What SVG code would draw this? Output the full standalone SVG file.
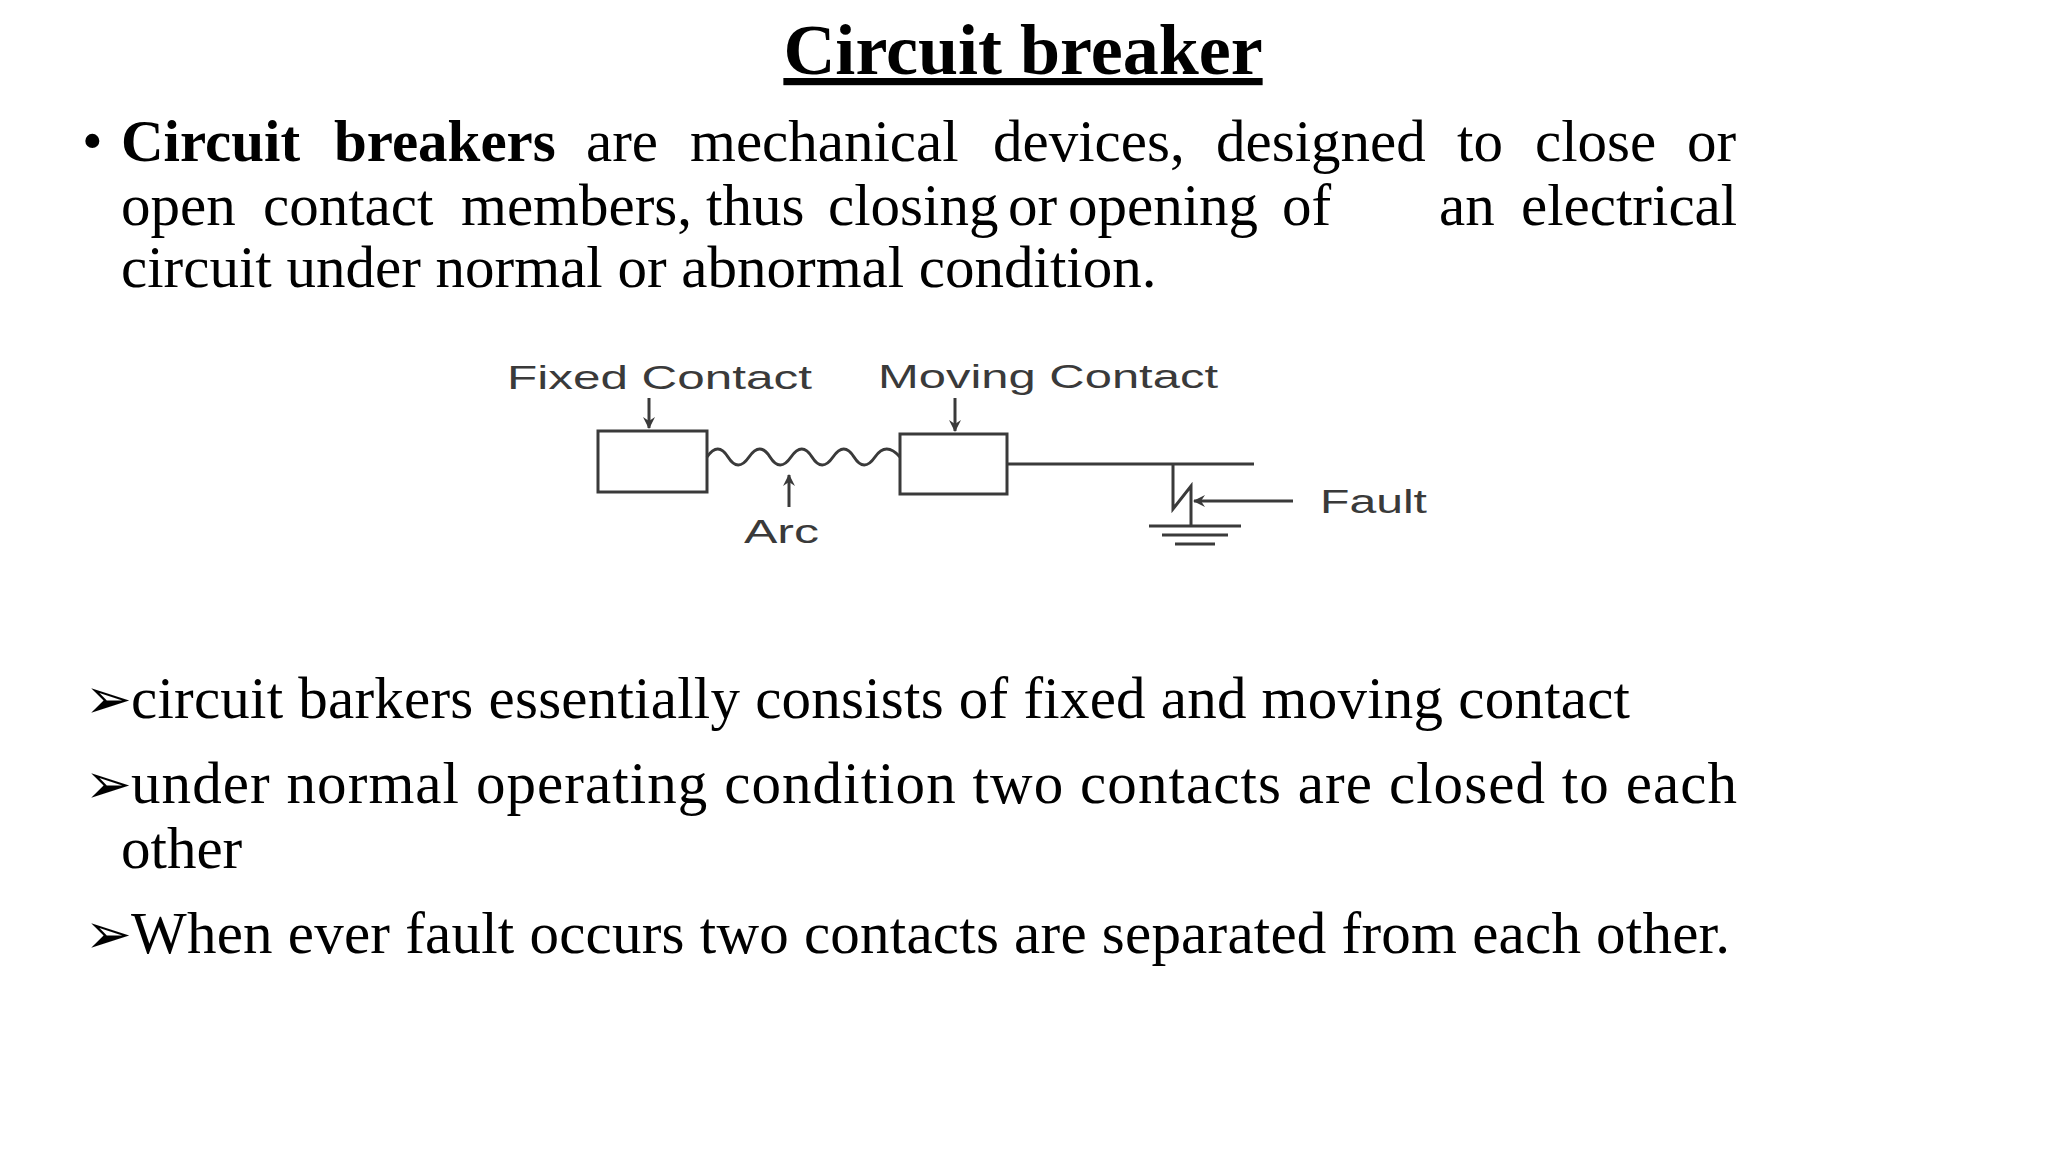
<svg xmlns="http://www.w3.org/2000/svg" width="2048" height="1152" viewBox="0 0 2048 1152">
<style>
.t{font-family:"Liberation Serif",serif;font-size:59px;fill:#000}
.d{font-family:"Liberation Sans",Arial,sans-serif;font-size:33px;fill:#3a3a3a}
.ln{stroke:#3a3a3a;stroke-width:3;fill:none}
.ar{font-family:"DejaVu Sans",sans-serif;font-size:56px}
</style>
<defs><marker id="ah" markerWidth="12" markerHeight="12" refX="11" refY="6" orient="auto" markerUnits="userSpaceOnUse"><path d="M0,0 L12,6 L0,12 L4,6 Z" fill="#3a3a3a"/></marker></defs>
<rect width="2048" height="1152" fill="#fff"/>
<g id="title"><text x="1023" y="74" text-anchor="middle" font-family="Liberation Serif,serif" font-size="72" font-weight="bold" text-decoration="underline">Circuit breaker</text></g>
<g id="para">
<text x="82" y="161" class="t">•</text>
<text y="161" class="t"><tspan x="121" font-weight="bold">Circuit</tspan><tspan x="334" font-weight="bold">breakers</tspan><tspan x="586">are</tspan><tspan x="690">mechanical</tspan><tspan x="993">devices,</tspan><tspan x="1216">designed</tspan><tspan x="1457">to</tspan><tspan x="1535">close</tspan><tspan x="1687">or</tspan></text>
<text y="225" class="t"><tspan x="121">open</tspan><tspan x="263">contact</tspan><tspan x="461">members,</tspan><tspan x="706">thus</tspan><tspan x="828">closing</tspan><tspan x="1008">or</tspan><tspan x="1068">opening</tspan><tspan x="1282">of</tspan><tspan x="1439">an</tspan><tspan x="1521">electrical</tspan></text>
<text x="121" y="287" class="t">circuit under normal or abnormal condition.</text>
</g>
<g id="diagram">
<text class="d" x="507" y="389" textLength="305" lengthAdjust="spacingAndGlyphs">Fixed Contact</text>
<text class="d" x="878" y="388" textLength="340" lengthAdjust="spacingAndGlyphs">Moving Contact</text>
<text class="d" x="744" y="543" textLength="75" lengthAdjust="spacingAndGlyphs">Arc</text>
<text class="d" x="1320" y="513" textLength="107" lengthAdjust="spacingAndGlyphs">Fault</text>
<rect class="ln" x="598" y="431" width="109" height="61"/>
<rect class="ln" x="900" y="434" width="107" height="60"/>
<path class="ln" d="M707,457 q11,-16 21,0 t21,0 t21,0 t21,0 t21,0 t21,0 t21,0 t21,0 t25,0"/>
<path class="ln" d="M1007,464 H1254"/>
<path class="ln" d="M1173,464 V509 L1191,486 V526"/>
<path class="ln" d="M1149,526 H1241 M1162,535 H1228 M1175,544 H1215"/>
<path class="ln" d="M649,398 V428" marker-end="url(#ah)"/>
<path class="ln" d="M955,398 V431" marker-end="url(#ah)"/>
<path class="ln" d="M789,507 V475" marker-end="url(#ah)"/>
<path class="ln" d="M1293,501 H1194" marker-end="url(#ah)"/>
</g>
<g id="bullets">
<text x="85" y="718" class="t"><tspan class="ar">➢</tspan><tspan x="131" textLength="1499" lengthAdjust="spacing">circuit barkers essentially consists of fixed and moving contact</tspan></text>
<text x="85" y="803" class="t"><tspan class="ar">➢</tspan><tspan x="131" textLength="1606" lengthAdjust="spacing">under normal operating  condition two contacts are closed to each</tspan></text>
<text x="121" y="868" class="t">other</text>
<text x="85" y="953" class="t"><tspan class="ar">➢</tspan><tspan x="131" textLength="1599" lengthAdjust="spacing">When ever fault occurs two contacts are separated from each other.</tspan></text>
</g>
</svg>
